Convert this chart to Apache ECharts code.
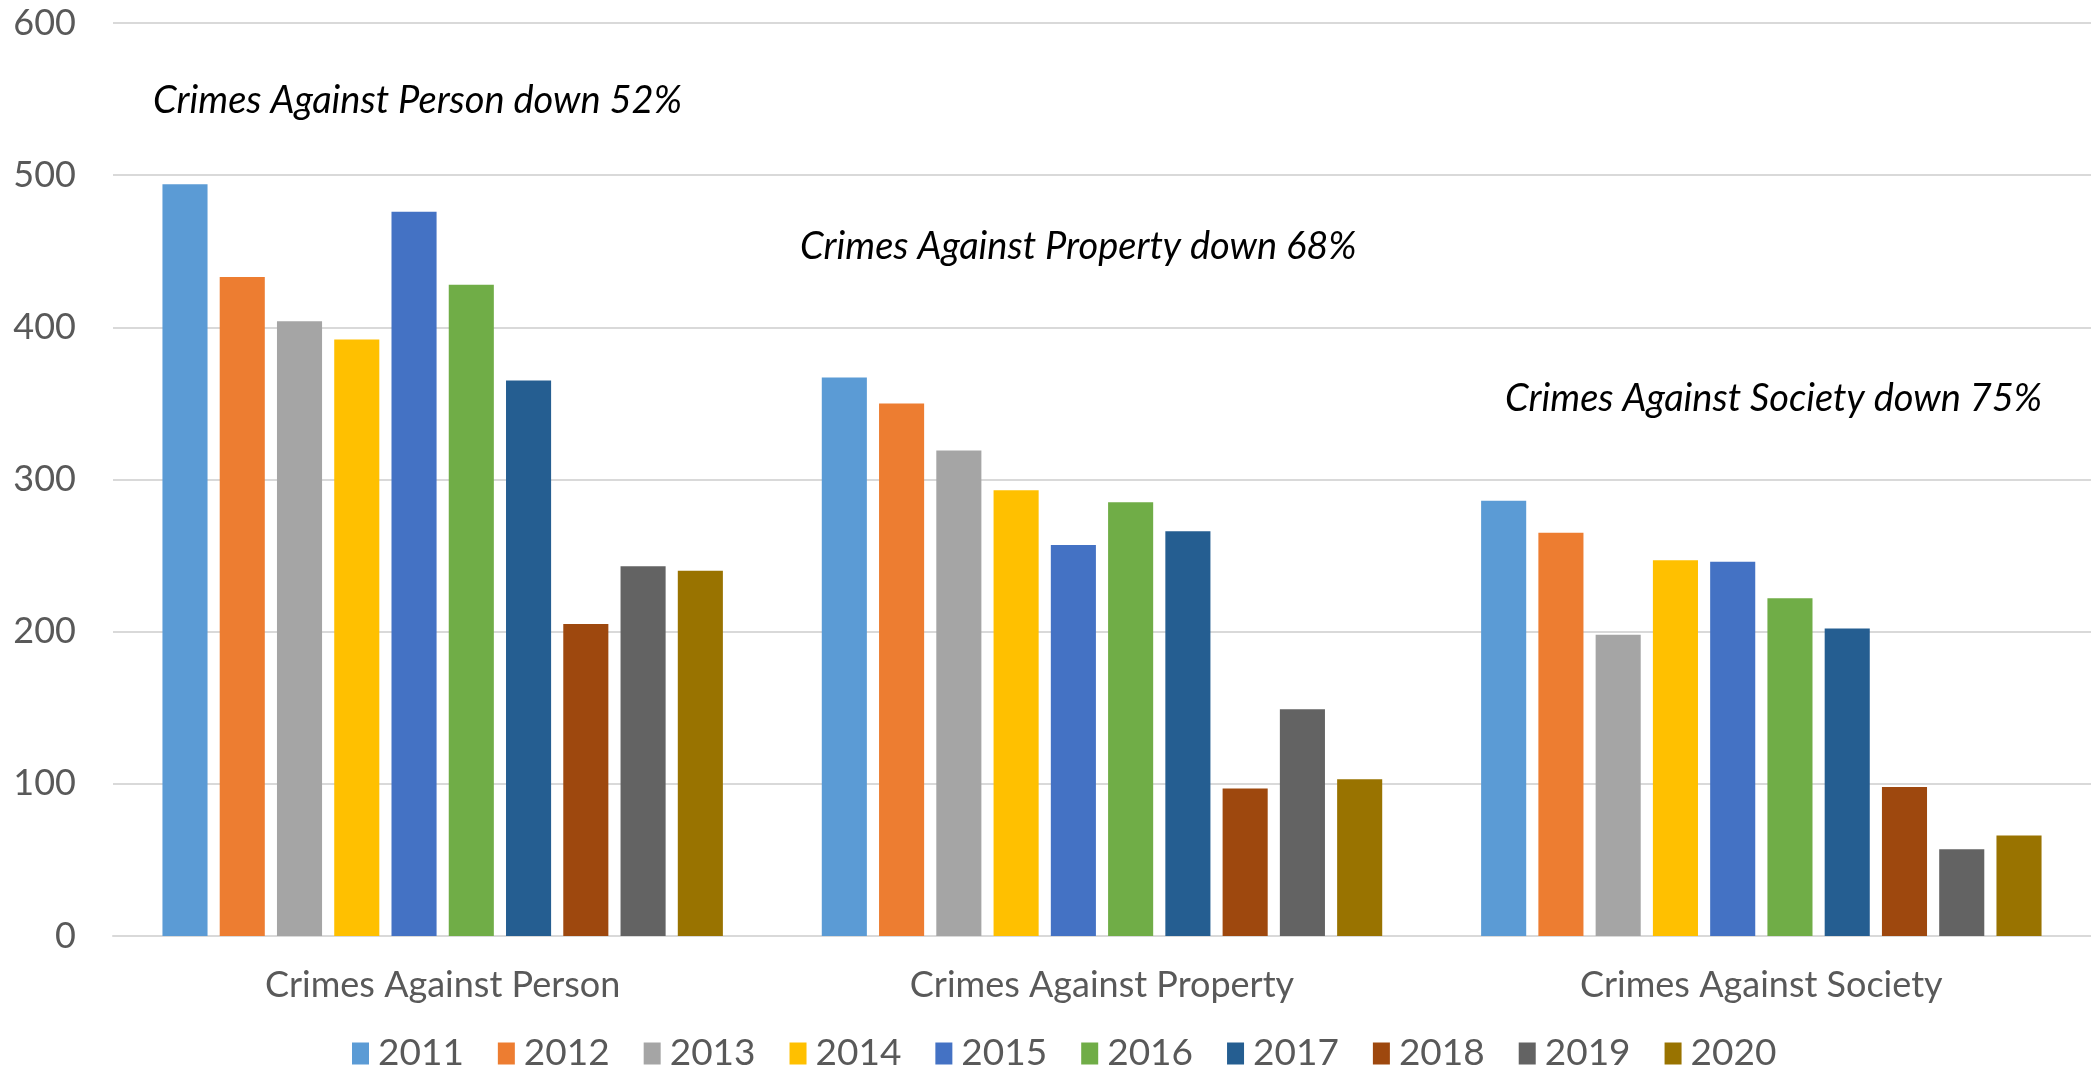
<!DOCTYPE html>
<html>
<head>
<meta charset="utf-8">
<script src="https://cdn.jsdelivr.net/npm/echarts@6/dist/echarts.min.js"></script>
<style>html,body{margin:0;padding:0;background:#fff;}#c{width:2091px;height:1075px;}</style>
</head>
<body>
<div id="c"></div>
<script>
const categories = ['Crimes Against Person', 'Crimes Against Property', 'Crimes Against Society'];
const years = ['2011','2012','2013','2014','2015','2016','2017','2018','2019','2020'];
const v2011 = [494, 367, 286];
const v2012 = [433, 350, 265];
const v2013 = [404, 319, 198];
const v2014 = [392, 293, 247];
const v2015 = [476, 257, 246];
const v2016 = [428, 285, 222];
const v2017 = [365, 266, 202];
const v2018 = [205, 97, 98];
const v2019 = [243, 149, 57];
const v2020 = [240, 103, 66];
const yTicks = [0, 100, 200, 300, 400, 500, 600];
const annotations = ['Crimes Against Person down 52%', 'Crimes Against Property down 68%', 'Crimes Against Society down 75%'];
const colors = ['#5B9BD5','#ED7D31','#A5A5A5','#FFC000','#4472C4','#70AD47','#255E91','#9E480E','#636363','#997300'];
const values = [v2011,v2012,v2013,v2014,v2015,v2016,v2017,v2018,v2019,v2020];

const FONT = 'Lato';
const chart = echarts.init(document.getElementById('c'));
chart.setOption({
  animation: false,
  color: colors,
  grid: { left: 113, right: 0, top: 23, bottom: 139, containLabel: false },
  legend: {
    data: years,
    left: 347, top: 1030,
    itemWidth: 17, itemHeight: 22, itemGap: 34,
    icon: 'rect',
    textStyle: { fontFamily: FONT, fontSize: 37, color: '#595959', padding: [0,0,0,4] }
  },
  xAxis: {
    type: 'category', data: categories,
    axisLine: { lineStyle: { color: '#d9d9d9', width: 2 } },
    axisTick: { show: false },
    axisLabel: { fontFamily: FONT, fontSize: 36, color: '#595959', margin: 31 }
  },
  yAxis: {
    type: 'value', min: yTicks[0], max: yTicks[yTicks.length-1], interval: 100,
    axisLine: { show: false }, axisTick: { show: false },
    splitLine: { lineStyle: { color: '#d9d9d9', width: 2 } },
    axisLabel: { fontFamily: FONT, fontSize: 36, color: '#595959', margin: 37 }
  },
  series: years.map((y, i) => ({
    name: y, type: 'bar', data: values[i],
    barGap: '27%', barCategoryGap: '15%'
  })),
  graphic: [
    { type: 'text', left: 153, top: 82, style: { text: annotations[0], font: 'italic 38px ' + FONT, fill: '#000' } },
    { type: 'text', left: 800, top: 228, style: { text: annotations[1], font: 'italic 38px ' + FONT, fill: '#000' } },
    { type: 'text', left: 1505, top: 380, style: { text: annotations[2], font: 'italic 38px ' + FONT, fill: '#000' } }
  ]
});
</script>
</body>
</html>
